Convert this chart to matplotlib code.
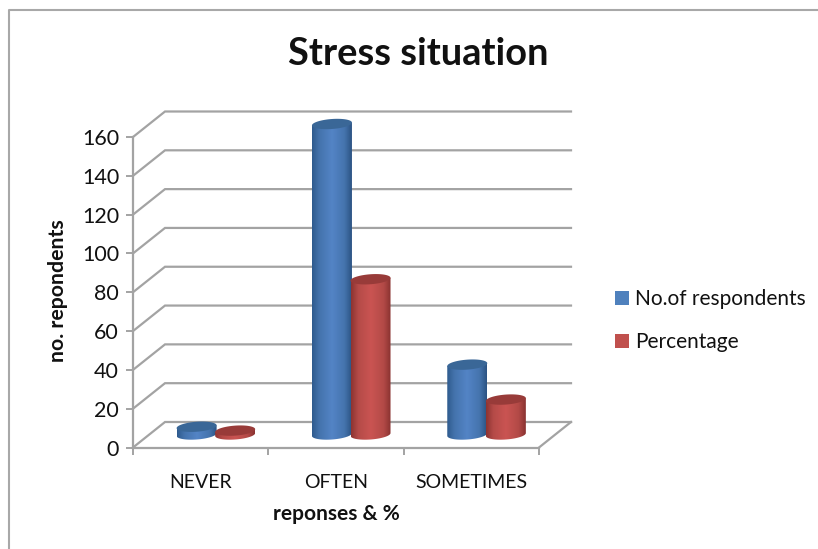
import numpy as np
import matplotlib
matplotlib.use("Agg")
import matplotlib.pyplot as plt
from matplotlib.lines import Line2D
from matplotlib.patches import Patch, PathPatch
from matplotlib.path import Path

categories = ["NEVER", "OFTEN", "SOMETIMES"]
respondents = [4, 160, 36]
percentage = [2, 80, 18]
y_ticks = [0, 20, 40, 60, 80, 100, 120, 140, 160]

W, H = 818, 549
plt.rcParams['font.family'] = ['Lato', 'DejaVu Sans']

fig = plt.figure(figsize=(W / 100, H / 100), dpi=100)
left, right, top, bottom = 133, 539, 137, 447.5
ax = fig.add_axes([left / W, 1 - bottom / H, (right - left) / W, (bottom - top) / H])
ax.set_xlim(0, 3)
ax.set_ylim(0, 160)

# pixel sizes in data units
px_x = 3 / (right - left)
px_y = 160 / (bottom - top)
depth_x = 32 * px_x
depth_y = 25.5 * px_y

grey = '#a3a3a3'
for v in y_ticks:
    ax.plot([0, depth_x, 3 + depth_x], [v, v + depth_y, v + depth_y],
            color=grey, lw=1.6, clip_on=False, zorder=1, solid_joinstyle='miter')
ax.plot([3, 3 + depth_x], [0, depth_y], color=grey, lw=1.6, clip_on=False, zorder=1)

for s in ['top', 'right']:
    ax.spines[s].set_visible(False)
for s in ['left', 'bottom']:
    ax.spines[s].set_color(grey)
    ax.spines[s].set_linewidth(1.6)
    ax.spines[s].set_zorder(1)

ax.set_yticks(y_ticks)
ax.set_xticks([0, 1, 2, 3])
ax.set_xticklabels([])
ax.set_xticks([0.5, 1.5, 2.5], minor=True)
ax.set_xticklabels(categories, minor=True, fontsize=14, color='#111111')
ax.tick_params(axis='x', which='major', length=5, width=1.4, color=grey)
ax.tick_params(axis='x', which='minor', length=0, pad=19)
ax.tick_params(axis='y', length=5, width=1.4, color=grey, labelsize=15.5, labelcolor='#111111', pad=5)


def cylinder(xc, value, stops, cap):
    # one 3D looking bar, gradient image clipped to the body outline
    base = 6.7
    a = 20 * px_x
    b = 5 * px_y
    tilt = 0.07 * px_y / px_x
    t = np.linspace(np.pi, 2 * np.pi, 40)
    low_x = xc + a * np.cos(t)
    low_y = base + b * np.sin(t) + tilt * a * np.cos(t)
    t2 = np.linspace(0, 2 * np.pi, 80)
    cap_x = xc + a * np.cos(t2)
    cap_y = base + value + b * np.sin(t2) + tilt * a * np.cos(t2)
    top_l = base + value - tilt * a
    top_r = base + value + tilt * a
    xs = np.r_[low_x, xc + a, xc - a]
    ys = np.r_[low_y, top_r, top_l]
    body = PathPatch(Path(np.c_[xs, ys]), transform=ax.transData, fc='none', ec='none')
    ax.add_patch(body)
    u = np.linspace(0, 1, 60)
    pos = [0, 0.18, 0.5, 0.82, 1]
    colors = np.array([[np.interp(p, pos, [c[i] for c in stops]) for i in range(3)] for p in u])
    im = ax.imshow(colors[np.newaxis, :, :], extent=[xc - a, xc + a, 0, 175], aspect='auto',
                   zorder=3, origin='lower', interpolation='bilinear')
    im.set_clip_box(fig.bbox)
    im.set_clip_path(body)
    ax.fill(cap_x, cap_y, color=cap, zorder=3.1, clip_on=False, lw=0)


def rgb(h):
    return matplotlib.colors.to_rgb(h)


blue_stops = [rgb(c) for c in ['#2f5b8e', '#4473ac', '#5384c6', '#4574ad', '#2c5484']]
red_stops = [rgb(c) for c in ['#8e3432', '#b54b48', '#ca5452', '#b34a47', '#8a3331']]
for i in range(3):
    cylinder(i + 0.47, respondents[i], blue_stops, '#3a6797')
    cylinder(i + 0.755, percentage[i], red_stops, '#983b39')

ax.set_xlim(0, 3)
ax.set_ylim(0, 160)

fig.text(418 / W, 1 - 54 / H, "Stress situation", fontsize=27.4, fontweight='bold',
         ha='center', va='center', color='#111111')
fig.text(58 / W, 1 - 291 / H, "no. repondents", fontsize=15.3, fontweight='bold',
         rotation=90, ha='center', va='center', color='#111111')
fig.text(336 / W, 1 - 514 / H, "reponses & %", fontsize=15, fontweight='bold',
         ha='center', va='center', color='#111111')

handles = [Patch(fc='#4f81bd', ec='none'), Patch(fc='#c0504d', ec='none')]
fig.legend(handles, ["No.of respondents", "Percentage"], loc='upper left',
           bbox_to_anchor=(611 / W, 1 - 285 / H), frameon=False, fontsize=15,
           labelcolor='#111111', handlelength=0.65, handleheight=0.65, handletextpad=0.3,
           labelspacing=1.1, borderpad=0.2, borderaxespad=0)

# screenshot border, top and left only
fig.add_artist(Line2D([8.5 / W, 8.5 / W, 1], [0, 1 - 10 / H, 1 - 10 / H], color='#a8a8a8', lw=1.5))

fig.savefig("out.png", dpi=100)
